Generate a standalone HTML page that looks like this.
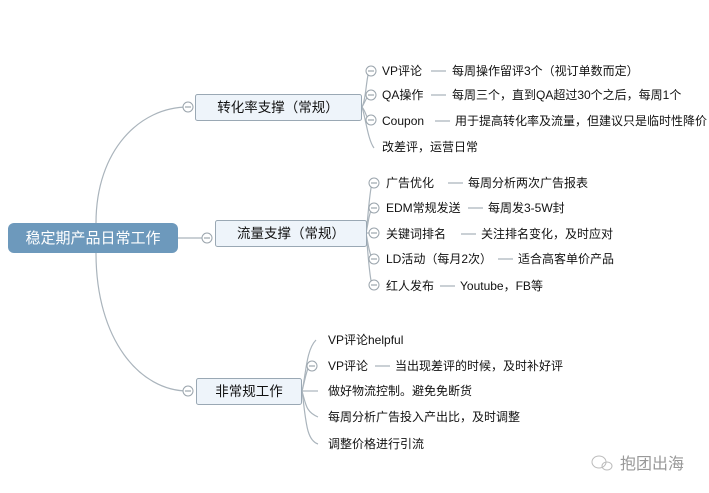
<!DOCTYPE html><html><head><meta charset="utf-8"><style>
body{margin:0;background:#fff}
svg{display:block}
text{font-family:"Liberation Sans","Noto Sans CJK SC",sans-serif;fill:#111;font-size:12px}
</style></head><body>
<svg width="709" height="493" viewBox="0 0 709 493">
<g fill="none" stroke="#aab4bc" stroke-width="1.2">
<path d="M96 223 C96 150 140 107 188 107"/>
<path d="M96 253 C96 340 140 391 188 391"/>
<path d="M178 238 L203 238"/>
<!-- branch1 leaves -->
<path d="M362 107 C366 100 366 80 369 71"/>
<path d="M362 107 C365 102 366 98 369 95"/>
<path d="M362 107 C366 112 366 117 369 120"/>
<path d="M362 107 C366 120 368 140 374 148"/>
<!-- branch2 -->
<path d="M366 233 C368 220 369 195 372 183"/>
<path d="M366 233 C368 225 369 213 372 208"/>
<path d="M366 233 L371 233"/>
<path d="M366 233 C368 243 369 253 372 258"/>
<path d="M366 233 C368 250 369 275 372 285"/>
<!-- branch3 -->
<path d="M302 391 C306 375 306 350 316 340"/>
<path d="M302 391 C305 380 306 372 309 366"/>
<path d="M302 391 L318 391"/>
<path d="M302 391 C306 405 306 412 318 417"/>
<path d="M302 391 C306 420 306 440 318 444"/>
<!-- dashes -->
<path d="M431 71 H446 M431 95 H446 M435 121 H450 M448 183 H463 M468 208 H483 M461 234 H476 M498 259 H513 M440 286 H455 M375 366 H390"/>
</g>
<g fill="#fff" stroke="#9aa4ac" stroke-width="1">
<circle cx="188" cy="107" r="5"/><circle cx="207" cy="238" r="5"/><circle cx="188" cy="391" r="5"/>
<circle cx="371" cy="71" r="5"/><circle cx="371" cy="95" r="5"/><circle cx="371" cy="120" r="5"/>
<circle cx="374" cy="183" r="5"/><circle cx="374" cy="208" r="5"/><circle cx="374" cy="233" r="5"/><circle cx="374" cy="259" r="5"/><circle cx="374" cy="285" r="5"/>
<circle cx="312" cy="366" r="5"/>
</g>
<g stroke="#8a949c" stroke-width="1">
<path d="M185 107h6M204 238h6M185 391h6M368 71h6M368 95h6M368 120h6M371 183h6M371 208h6M371 233h6M371 259h6M371 285h6M309 366h6"/>
</g>
<rect x="8" y="223" width="170" height="30" rx="6" fill="#6d99bc"/>
<text x="93" y="243" text-anchor="middle" style="fill:#fff;font-size:15px">稳定期产品日常工作</text>
<rect x="195.5" y="94.5" width="166" height="26" rx="2" fill="#eef4fa" stroke="#9aa8b4"/>
<text x="278" y="112" text-anchor="middle" style="font-size:13.5px">转化率支撑（常规）</text>
<rect x="215.5" y="220.5" width="151" height="26" rx="2" fill="#eef4fa" stroke="#9aa8b4"/>
<text x="291" y="238" text-anchor="middle" style="font-size:13.5px">流量支撑（常规）</text>
<rect x="196.5" y="378.5" width="105" height="26" rx="2" fill="#eef4fa" stroke="#9aa8b4"/>
<text x="249" y="396" text-anchor="middle" style="font-size:13.5px">非常规工作</text>
<text x="382" y="75">VP评论</text><text x="452" y="75">每周操作留评3个（视订单数而定）</text>
<text x="382" y="99">QA操作</text><text x="452" y="99">每周三个，直到QA超过30个之后，每周1个</text>
<text x="382" y="125">Coupon</text><text x="455" y="125">用于提高转化率及流量，但建议只是临时性降价</text>
<text x="382" y="151">改差评，运营日常</text>
<text x="386" y="187">广告优化</text><text x="468" y="187">每周分析两次广告报表</text>
<text x="386" y="212">EDM常规发送</text><text x="488" y="212">每周发3-5W封</text>
<text x="386" y="238">关键词排名</text><text x="481" y="238">关注排名变化，及时应对</text>
<text x="386" y="263">LD活动（每月2次）</text><text x="518" y="263">适合高客单价产品</text>
<text x="386" y="290">红人发布</text><text x="460" y="290">Youtube，FB等</text>
<text x="328" y="344">VP评论helpful</text>
<text x="328" y="370">VP评论</text><text x="395" y="370">当出现差评的时候，及时补好评</text>
<text x="328" y="395">做好物流控制。避免免断货</text>
<text x="328" y="421">每周分析广告投入产出比，及时调整</text>
<text x="328" y="448">调整价格进行引流</text>
<g stroke="#bbb" fill="none"><ellipse cx="599" cy="462" rx="7" ry="6"/><ellipse cx="607" cy="466" rx="5" ry="4"/></g>
<text x="620" y="469" style="font-size:16px;fill:#999">抱团出海</text>
</svg></body></html>
